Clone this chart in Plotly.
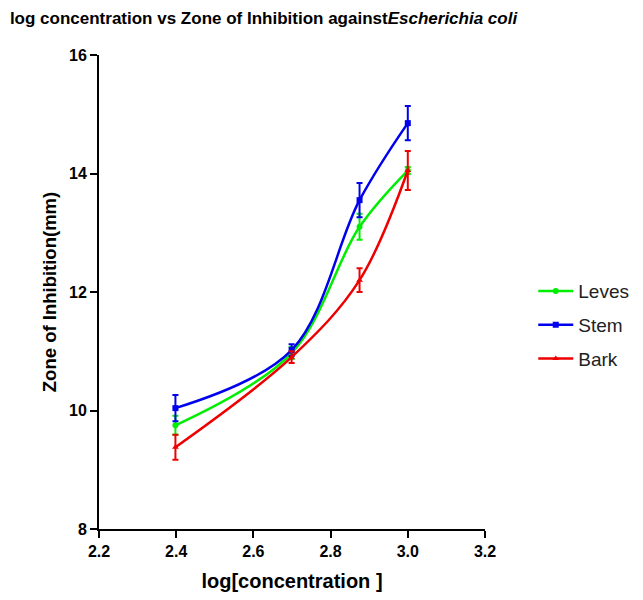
import plotly.graph_objects as go

log_conc = [2.398, 2.699, 2.875, 3.0]
leves = [9.75, 10.97, 13.10, 14.05]
leves_err = [0.16, 0.10, 0.22, 0.06]
stem = [10.04, 11.02, 13.55, 14.85]
stem_err = [0.22, 0.10, 0.29, 0.29]
bark = [9.38, 10.90, 12.20, 14.05]
bark_err = [0.21, 0.10, 0.20, 0.33]

series = [
    ("Leves", leves, leves_err, "#00ee00", "circle"),
    ("Stem", stem, stem_err, "#0000ee", "square"),
    ("Bark", bark, bark_err, "#ee0000", "triangle-up"),
]

fig = go.Figure()
for name, ys, errs, color, sym in series:
    fig.add_trace(go.Scatter(
        x=log_conc, y=ys, name=name, legendgroup=name, mode="lines+markers",
        line=dict(color=color, width=2.5, shape="spline", smoothing=1.0),
        marker=dict(color=color, symbol=sym, size=6),
        error_y=dict(type="data", array=errs, visible=True, color=color,
                     thickness=2, width=3),
    ))

font_family = "Liberation Sans, Arial, sans-serif"
fig.update_layout(
    width=635, height=592,
    margin=dict(l=91, r=158, t=47, b=71, autoexpand=False),
    paper_bgcolor="white", plot_bgcolor="white",
    font=dict(family=font_family, color="black"),
    title=dict(
        text="<b>log concentration vs Zone of Inhibition against<i>Escherichia coli</i></b>",
        x=0.003, xanchor="left", y=0.983, yanchor="middle",
        font=dict(size=17, family=font_family, color="black"),
    ),
    xaxis=dict(
        range=[2.2, 3.2], tickvals=[2.2, 2.4, 2.6, 2.8, 3.0, 3.2],
        ticktext=["<b>2.2</b>", "<b>2.4</b>", "<b>2.6</b>", "<b>2.8</b>", "<b>3.0</b>", "<b>3.2</b>"],
        showgrid=False, zeroline=False, showline=True, linecolor="black", linewidth=2,
        ticks="outside", ticklen=7, tickwidth=2, tickcolor="black",
        tickfont=dict(size=16, family=font_family, color="black"),
        title=dict(text="<b>log[concentration ]</b>", font=dict(size=20, family=font_family, color="black"),
                   standoff=15),
    ),
    yaxis=dict(
        range=[8, 16], tickvals=[8, 10, 12, 14, 16],
        ticktext=["<b>8</b>", "<b>10</b>", "<b>12</b>", "<b>14</b>", "<b>16</b>"],
        showgrid=False, zeroline=False, showline=True, linecolor="black", linewidth=2,
        ticks="outside", ticklen=7, tickwidth=2, tickcolor="black",
        tickfont=dict(size=16, family=font_family, color="black"),
        title=dict(text="<b>Zone of Inhibition(mm)</b>", font=dict(size=18.5, family=font_family, color="black"),
                   standoff=8),
    ),
    legend=dict(
        x=1.125, xanchor="left", y=0.43, yanchor="middle",
        font=dict(size=19, family=font_family, color="#222"),
        traceorder="grouped", tracegroupgap=6, itemwidth=35,
    ),
    showlegend=True,
)

fig.write_html("out.html")
